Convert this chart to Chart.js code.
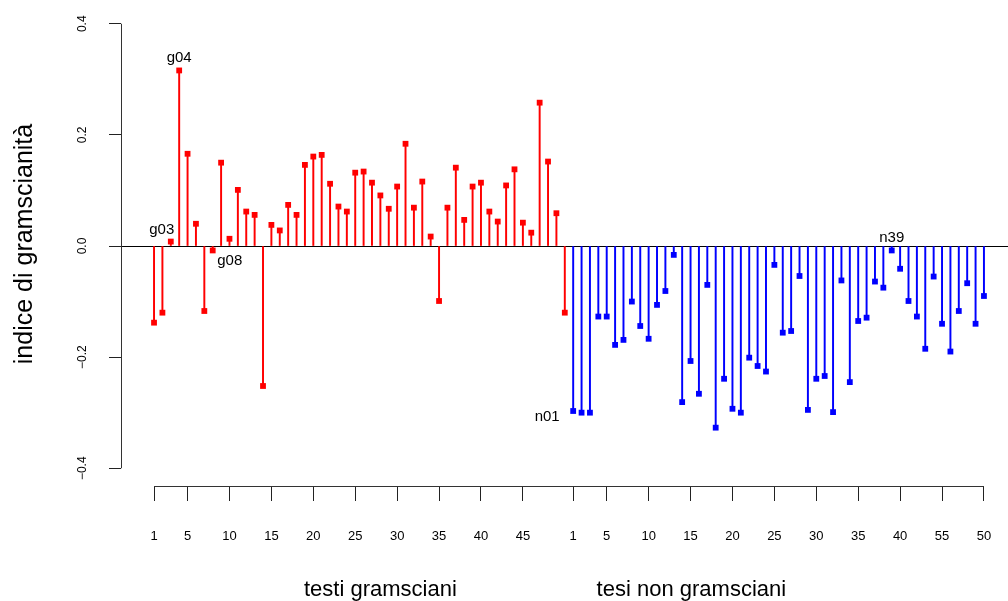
<!DOCTYPE html>
<html>
<head>
<meta charset="utf-8">
<script src="https://cdn.jsdelivr.net/npm/chart.js@4.4.1/dist/chart.umd.min.js"></script>
<style>
    html, body { margin: 0; padding: 0; background: #fff; }
    #wrap { width: 1008px; height: 601px; }
</style>
</head>
<body>
<div id="wrap"><canvas id="indexChart" width="1008" height="601"></canvas></div>
<script>
// testi gramsciani (g01..g50)
const gramsciVals = [
    -0.138, -0.120, 0.008, 0.316, 0.166, 0.040, -0.117, -0.008, 0.150, 0.013,
    0.101, 0.062, 0.056, -0.252, 0.038, 0.028, 0.074, 0.056, 0.146, 0.161,
    0.164, 0.112, 0.071, 0.062, 0.132, 0.134, 0.114, 0.091, 0.067, 0.107,
    0.184, 0.069, 0.116, 0.017, -0.099, 0.069, 0.141, 0.047, 0.107, 0.114,
    0.062, 0.044, 0.109, 0.138, 0.042, 0.024, 0.258, 0.152, 0.059, -0.120
];
// tesi non gramsciani (n01..n50)
const nonGramsciVals = [
    -0.297, -0.300, -0.300, -0.127, -0.127, -0.178, -0.169, -0.100, -0.144, -0.167,
    -0.106, -0.081, -0.016, -0.281, -0.207, -0.266, -0.070, -0.327, -0.239, -0.293,
    -0.300, -0.201, -0.216, -0.226, -0.034, -0.156, -0.153, -0.054, -0.295, -0.239,
    -0.234, -0.299, -0.062, -0.245, -0.135, -0.129, -0.064, -0.075, -0.008, -0.041,
    -0.099, -0.127, -0.185, -0.055, -0.140, -0.190, -0.117, -0.067, -0.140, -0.090
];

const gramsciTickAt = [1, 5, 10, 15, 20, 25, 30, 35, 40, 45];
const nonGramsciTickAt = [1, 5, 10, 15, 20, 25, 30, 35, 40, 45, 50];
const nonGramsciTickLabels = ['1', '5', '10', '15', '20', '25', '30', '35', '40', '55', '50'];
const yTicks = [-0.4, -0.2, 0, 0.2, 0.4];
const groupNames = ['testi gramsciani', 'tesi non gramsciani'];

// labelled points: [group, index, name]
const namedPoints = [[0, 4, 'g04'], [0, 3, 'g03'], [0, 8, 'g08'], [1, 1, 'n01'], [1, 39, 'n39']];

const FONT = "'Liberation Sans', Arial, Helvetica, sans-serif";
const RED = '#ff0000';
const BLUE = '#0000ff';
const n1 = gramsciVals.length;

// label offsets (px) from their point
const nameOffset = { g04: [0, -13], g03: [-9, -12], g08: [17, 10], n01: [-26, 6], n39: [0, -13] };
const groupLabelAt = [28, 65.1];

const gramsciPts = gramsciVals.map((v, i) => ({ x: i + 1, y: v }));
const nonGramsciPts = nonGramsciVals.map((v, i) => ({ x: n1 + i + 1, y: v }));

const tickMap = {};
gramsciTickAt.forEach(t => { tickMap[t] = String(t); });
nonGramsciTickAt.forEach((t, i) => { tickMap[n1 + t] = nonGramsciTickLabels[i]; });

const fmtY = v => (v < 0 ? '\u2212' : '') + Math.abs(v).toFixed(1);

const rAxes = {
    id: 'rAxes',
    beforeDatasetsDraw(chart) {
        const { ctx, chartArea: a, scales: { y } } = chart;
        ctx.save();
        ctx.strokeStyle = '#000';
        ctx.lineWidth = 1;
        const y0 = Math.round(y.getPixelForValue(0) - 0.5) + 0.5;
        ctx.beginPath();
        ctx.moveTo(a.left, y0);
        ctx.lineTo(chart.width, y0);
        ctx.stroke();
        ctx.restore();
    },
    afterDraw(chart) {
        const { ctx, chartArea: a, scales: { x, y } } = chart;
        ctx.save();
        ctx.strokeStyle = '#333';
        ctx.lineWidth = 1;

        // y axis line, first to last tick
        const ax = Math.round(a.left - 0.5) + 0.5;
        ctx.beginPath();
        ctx.moveTo(ax, y.getPixelForValue(yTicks[0]));
        ctx.lineTo(ax, y.getPixelForValue(yTicks[yTicks.length - 1]));
        ctx.stroke();

        // x axis line
        const ay = Math.round(a.bottom - 0.5) + 0.5;
        ctx.beginPath();
        ctx.moveTo(x.getPixelForValue(1), ay);
        ctx.lineTo(x.getPixelForValue(n1 + nonGramsciVals.length), ay);
        ctx.stroke();

        ctx.fillStyle = '#000';
        ctx.textAlign = 'center';

        // x tick labels
        ctx.font = '13px ' + FONT;
        ctx.textBaseline = 'alphabetic';
        Object.keys(tickMap).forEach(k => {
            ctx.fillText(tickMap[k], x.getPixelForValue(Number(k)), 540);
        });

        // y tick labels, rotated
        ctx.textBaseline = 'middle';
        ctx.font = '12px ' + FONT;
        yTicks.forEach(v => {
            ctx.save();
            ctx.translate(83, y.getPixelForValue(v));
            ctx.rotate(-Math.PI / 2);
            ctx.fillText(fmtY(v), 0, 0);
            ctx.restore();
        });

        // y title
        ctx.font = '25px ' + FONT;
        ctx.save();
        ctx.translate(25, (a.top + a.bottom) / 2 - 2);
        ctx.rotate(-Math.PI / 2);
        ctx.fillText('indice di gramscianità', 0, 0);
        ctx.restore();

        // group labels
        ctx.font = '22px ' + FONT;
        ctx.textBaseline = 'alphabetic';
        groupNames.forEach((g, i) => {
            ctx.fillText(g, x.getPixelForValue(groupLabelAt[i]), 596);
        });

        // point names
        ctx.font = '15px ' + FONT;
        ctx.textBaseline = 'middle';
        namedPoints.forEach(([grp, idx, name]) => {
            const pt = chart.getDatasetMeta(grp).data[idx - 1];
            const off = nameOffset[name];
            ctx.fillText(name, pt.x + off[0], pt.y + off[1]);
        });
        ctx.restore();
    }
};

document.addEventListener('DOMContentLoaded', () => {
    const ctx = document.getElementById('indexChart').getContext('2d');
    new Chart(ctx, {
        type: 'scatter',
        data: {
            datasets: [{
                label: 'testi gramsciani',
                data: gramsciPts,
                pointStyle: 'rect',
                pointRadius: 4.1,
                pointBorderWidth: 0,
                backgroundColor: RED,
                order: 0
            }, {
                label: 'tesi non gramsciani',
                data: nonGramsciPts,
                pointStyle: 'rect',
                pointRadius: 4.1,
                pointBorderWidth: 0,
                backgroundColor: BLUE,
                order: 0
            }, {
                type: 'bar',
                data: gramsciPts,
                backgroundColor: RED,
                barThickness: 1.3,
                grouped: false,
                order: 1
            }, {
                type: 'bar',
                data: nonGramsciPts,
                backgroundColor: BLUE,
                barThickness: 1.3,
                grouped: false,
                order: 1
            }]
        },
        options: {
            responsive: false,
            animation: false,
            layout: { padding: { top: 6, left: 0, right: 0, bottom: 0 } },
            plugins: {
                legend: { display: false },
                tooltip: { enabled: false }
            },
            scales: {
                x: {
                    type: 'linear',
                    min: -2.94,
                    max: 102.38,
                    offset: false,
                    border: { display: false },
                    grid: {
                        offset: false,
                        drawOnChartArea: false,
                        drawTicks: true,
                        tickLength: 15,
                        color: '#222'
                    },
                    afterBuildTicks: s => {
                        s.ticks = Object.keys(tickMap).map(k => ({ value: Number(k) }));
                    },
                    afterFit: s => { s.height = 115; },
                    ticks: { display: false }
                },
                y: {
                    min: -0.432,
                    max: 0.432,
                    border: { display: false },
                    grid: {
                        drawOnChartArea: false,
                        drawTicks: true,
                        tickLength: 12,
                        color: '#222'
                    },
                    afterBuildTicks: s => {
                        s.ticks = yTicks.map(v => ({ value: v }));
                    },
                    afterFit: s => { s.width = 121; },
                    ticks: { display: false }
                }
            }
        },
        plugins: [rAxes]
    });
});
</script>
</body>
</html>
